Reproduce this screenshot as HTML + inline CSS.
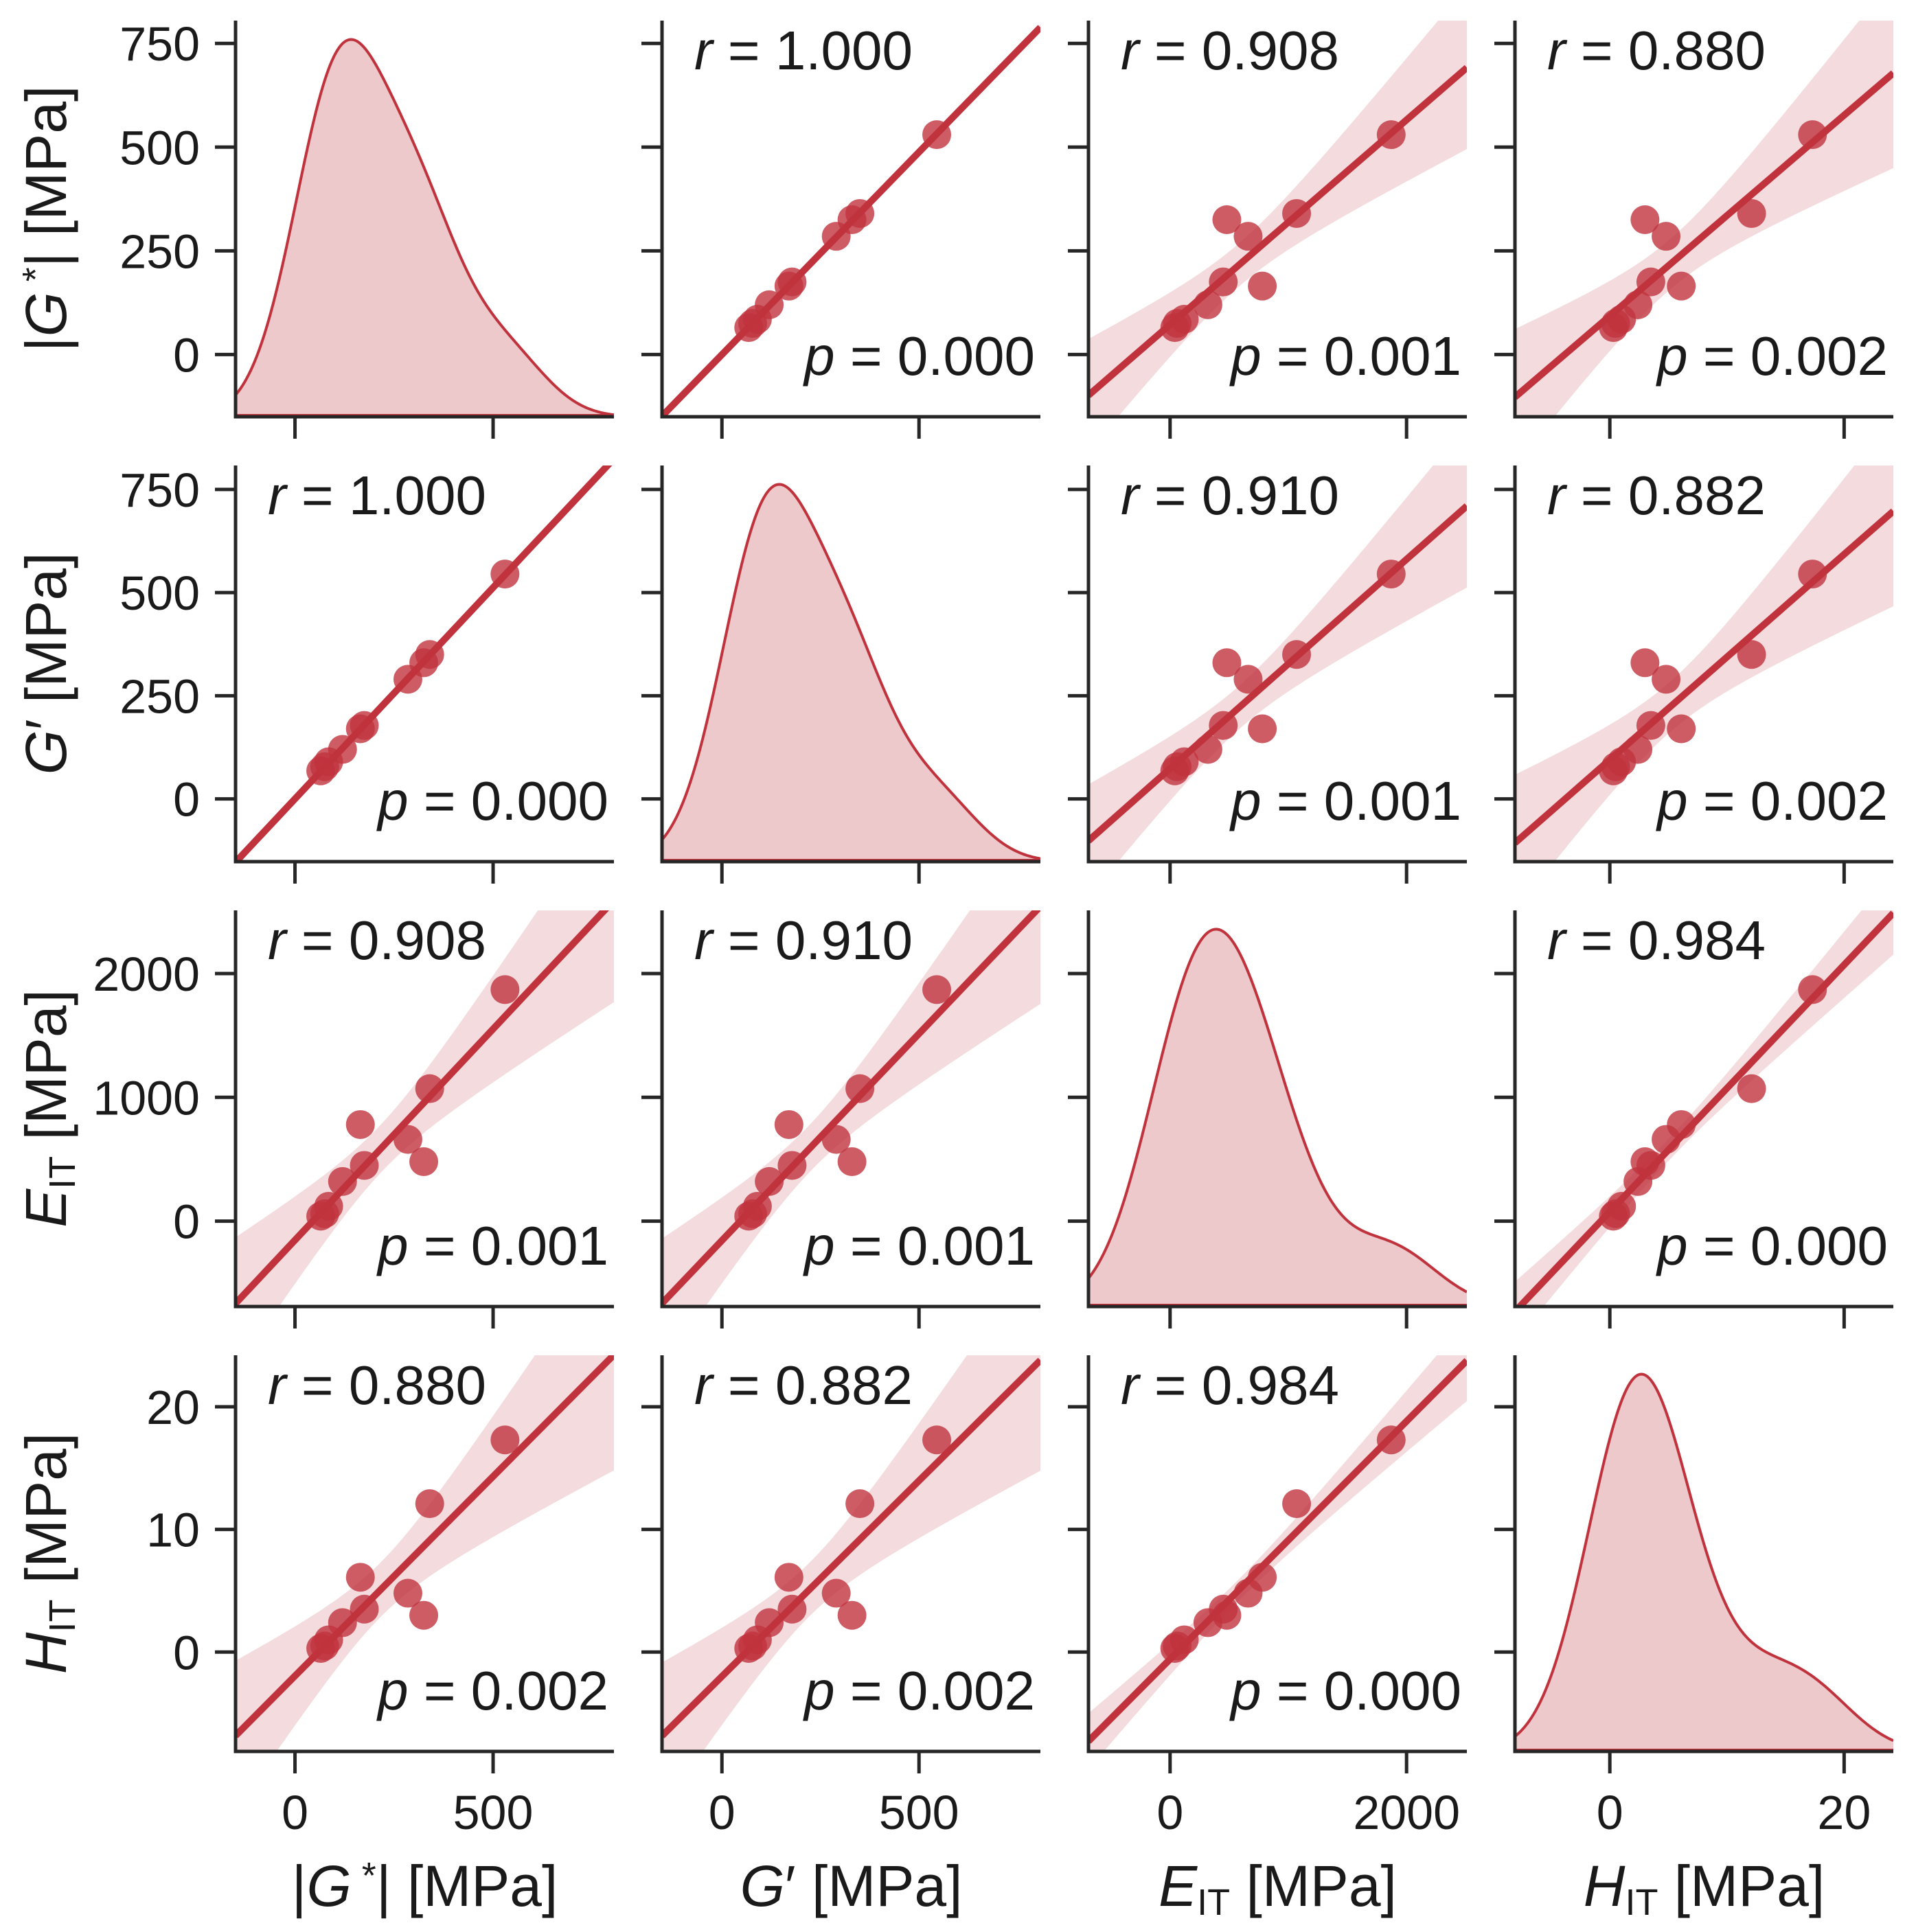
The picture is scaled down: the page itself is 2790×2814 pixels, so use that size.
<!DOCTYPE html>
<html><head><meta charset="utf-8">
<style>
html,body{margin:0;padding:0;background:#fff;}
svg{display:block;font-family:"Liberation Sans",Arial,sans-serif;}
</style></head>
<body>
<svg id="fig" width="2790" height="2814" viewBox="0 0 2790 2814" xmlns="http://www.w3.org/2000/svg"></svg>
<script>
// ---- data (one entry per sample) ----
const gstar = [65, 75, 85, 120, 165, 175, 285, 325, 340, 530];
const gprime = [68, 78, 90, 120, 170, 178, 290, 330, 350, 545];
const eit = [40, 60, 120, 320, 780, 450, 660, 480, 1070, 1870];
const hit = [0.3, 0.5, 1.0, 2.4, 6.1, 3.5, 4.8, 3.0, 12.1, 17.3];
const rLabels = [["", "1.000", "0.908", "0.880"], ["1.000", "", "0.910", "0.882"], ["0.908", "0.910", "", "0.984"], ["0.880", "0.882", "0.984", ""]];
const pLabels = [["", "0.000", "0.001", "0.002"], ["0.000", "", "0.001", "0.002"], ["0.001", "0.001", "", "0.000"], ["0.002", "0.002", "0.000", ""]];
const ticks0 = [0, 250, 500, 750];
const ticks0x = [0, 500];
const ticksE = [0, 1000, 2000];
const ticksEx = [0, 2000];
const ticksH = [0, 10, 20];
const ticksHx = [0, 20];

const vars = [
  {v: gstar, dom: [-150, 805], yt: ticks0, xt: ticks0x, key: "gstar"},
  {v: gprime, dom: [-152, 808], yt: ticks0, xt: ticks0x, key: "gprime"},
  {v: eit, dom: [-690, 2510], yt: ticksE, xt: ticksEx, key: "eit"},
  {v: hit, dom: [-8.1, 24.2], yt: ticksH, xt: ticksHx, key: "hit"}
];
const lefts = [343, 964, 1585, 2206], tops = [30, 678, 1326, 1974], W = 551, H = 577;
const RED = "#c0333d", DARK = "#262626";
const NS = "http://www.w3.org/2000/svg";
const svg = document.getElementById("fig");
function el(tag, attrs, parent) {
  const e = document.createElementNS(NS, tag);
  for (const k in attrs) e.setAttribute(k, attrs[k]);
  (parent || svg).appendChild(e);
  return e;
}
const defs = el("defs", {});

function mean(a) { return a.reduce((s, x) => s + x, 0) / a.length; }
function std(a) { const m = mean(a); return Math.sqrt(a.reduce((s, x) => s + (x - m) * (x - m), 0) / (a.length - 1)); }

for (let i = 0; i < 4; i++) {
  for (let j = 0; j < 4; j++) {
    const L = lefts[j], T = tops[i];
    const xv = vars[j], yv = vars[i];
    const sx = x => L + (x - xv.dom[0]) / (xv.dom[1] - xv.dom[0]) * W;
    const g = el("g", {});
    
    
    const cp = el("clipPath", {id: "c" + i + j}, defs);
    el("rect", {x: L, y: T, width: W, height: H}, cp);
    const inner = el("g", {"clip-path": "url(#c" + i + j + ")"}, g);
    if (i === j) {
      const d = xv.v, n = d.length, bw = 1.1 * std(d) * Math.pow(n, -0.2);
      const xs = [], ys = [];
      for (let k = 0; k <= 200; k++) {
        const x = xv.dom[0] + (xv.dom[1] - xv.dom[0]) * k / 200;
        let s = 0;
        for (const v of d) s += Math.exp(-0.5 * ((x - v) / bw) ** 2);
        xs.push(x); ys.push(s);
      }
      const mx = Math.max(...ys) * 1.05;
      const sy = y => T + H - y / mx * H;
      let pth = "M" + sx(xs[0]) + "," + sy(0);
      let line = "";
      xs.forEach((x, k) => { pth += "L" + sx(x) + "," + sy(ys[k]); line += (k ? "L" : "M") + sx(x) + "," + sy(ys[k]); });
      pth += "L" + sx(xs[xs.length - 1]) + "," + sy(0) + "Z";
      const a = el("path", {d: pth, fill: "#edc9cc", stroke: "none"}, inner);
      
      
      const b = el("path", {d: line, fill: "none", stroke: RED, "stroke-width": 4}, inner);
      
      
      el("line", {x1: L, x2: L + W, y1: T + H - 2, y2: T + H - 2, stroke: RED, "stroke-width": 4}, inner);
    } else {
      const sy = y => T + H - (y - yv.dom[0]) / (yv.dom[1] - yv.dom[0]) * H;
      const X = xv.v, Y = yv.v, n = X.length, mX = mean(X), mY = mean(Y);
      let sxx = 0, sxy = 0;
      for (let k = 0; k < n; k++) { sxx += (X[k] - mX) ** 2; sxy += (X[k] - mX) * (Y[k] - mY); }
      const b1 = sxy / sxx, b0 = mY - b1 * mX;
      let sse = 0;
      for (let k = 0; k < n; k++) sse += (Y[k] - b0 - b1 * X[k]) ** 2;
      const se = Math.sqrt(sse / (n - 2)), t = 2.6;
      const up = [], lo = [];
      for (let k = 0; k <= 100; k++) {
        const x = xv.dom[0] + (xv.dom[1] - xv.dom[0]) * k / 100;
        const yh = b0 + b1 * x, w = t * se * Math.sqrt(1 / n + (x - mX) ** 2 / sxx);
        up.push([sx(x), sy(yh + w)]); lo.push([sx(x), sy(yh - w)]);
      }
      const band = "M" + up.map(p => p.join(",")).join("L") + "L" + lo.reverse().map(p => p.join(",")).join("L") + "Z";
      const bd = el("path", {d: band, fill: "#f4dcde", stroke: "none"}, inner);
      
      
      for (let k = 0; k < n; k++) {
        const c = el("circle", {cx: sx(X[k]), cy: sy(Y[k]), r: 21, fill: RED, "fill-opacity": 0.8}, inner);
        
        
      }
      const rl = el("line", {x1: sx(xv.dom[0]), y1: sy(b0 + b1 * xv.dom[0]), x2: sx(xv.dom[1]), y2: sy(b0 + b1 * xv.dom[1]), stroke: RED, "stroke-width": 10}, inner);
      
      
      const rt = el("text", {x: L + 47, y: T + 71, "font-size": 80, fill: "#1a1a1a"}, g);
      
      
      rt.innerHTML = '<tspan font-style="italic">r</tspan> = ' + rLabels[i][j];
      const pt = el("text", {x: L + W - 8, y: T + H - 61, "font-size": 80, fill: "#1a1a1a", "text-anchor": "end"}, g);
      
      
      pt.innerHTML = '<tspan font-style="italic">p</tspan> = ' + pLabels[i][j];
    }
    const syT = y => T + H - (y - yv.dom[0]) / (yv.dom[1] - yv.dom[0]) * H;
    yv.yt.forEach(v => {
      const yy = syT(v);
      const tk = el("line", {x1: L - 30, x2: L, y1: yy, y2: yy, stroke: DARK, "stroke-width": 5}, g);
      
      
      if (j === 0) {
        const tl = el("text", {x: L - 52, y: yy + 25, "font-size": 70, "text-anchor": "end", fill: "#1a1a1a"}, g);
        
        
        tl.textContent = v;
      }
    });
    xv.xt.forEach(v => {
      const xx = sx(v);
      const tk = el("line", {x1: xx, x2: xx, y1: T + H, y2: T + H + 32, stroke: DARK, "stroke-width": 5}, g);
      
      
      if (i === 3) {
        const tl = el("text", {x: xx, y: T + H + 113, "font-size": 70, "text-anchor": "middle", fill: "#1a1a1a"}, g);
        
        
        tl.textContent = v;
      }
    });
    const sp = el("path", {d: "M" + L + "," + T + "V" + (T + H) + "H" + (L + W), fill: "none", stroke: DARK, "stroke-width": 5}, g);
    
    
  }
}
const labels = [
  '|<tspan font-style="italic">G</tspan><tspan dy="-26" font-size="54"> *</tspan><tspan dy="26">| [MPa]</tspan>',
  '<tspan font-style="italic">G</tspan>′ [MPa]',
  '<tspan font-style="italic">E</tspan><tspan dy="13" font-size="54">IT</tspan><tspan dy="-13"> [MPa]</tspan>',
  '<tspan font-style="italic">H</tspan><tspan dy="13" font-size="54">IT</tspan><tspan dy="-13"> [MPa]</tspan>'
];
const lnames = ["gstar", "gprime", "eit", "hit"];
for (let k = 0; k < 4; k++) {
  const cx = lefts[k] + W / 2;
  const xl = el("text", {x: cx, y: 2776, "font-size": 84, "text-anchor": "middle", fill: "#1a1a1a"});
  
  
  xl.innerHTML = labels[k];
  const cy = tops[k] + H / 2;
  const yl = el("text", {x: 0, y: 0, "font-size": 84, "text-anchor": "middle", fill: "#1a1a1a", transform: "translate(96," + cy + ") rotate(-90)"});
  
  
  yl.innerHTML = labels[k];
}
</script>
</body></html>
